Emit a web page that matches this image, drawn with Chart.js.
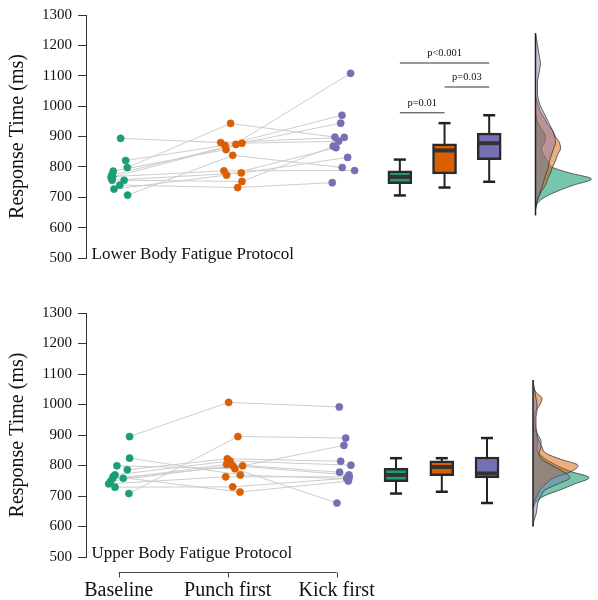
<!DOCTYPE html>
<html><head><meta charset="utf-8">
<script src="https://cdn.jsdelivr.net/npm/chart.js@4/dist/chart.umd.min.js"></script>
<style>
html,body{margin:0;padding:0;background:#fff;}
#wrap{position:relative;width:598px;height:600px;overflow:hidden;}
.panel{position:absolute;left:0;width:598px;}
#p1{top:0;height:280px;}
#p2{top:290px;height:310px;}
</style></head><body>
<div id="wrap">
  <div class="panel" id="p1"><canvas id="c1"></canvas></div>
  <div class="panel" id="p2"><canvas id="c2"></canvas></div>
</div>
<script>
// ---------------- DATA ----------------
const CONDITIONS = ['Baseline', 'Punch first', 'Kick first'];
const Y_TICK_MIN = 500, Y_TICK_MAX = 1300, Y_TICK_STEP = 100;
const PANEL_TITLES = ['Lower Body Fatigue Protocol', 'Upper Body Fatigue Protocol'];

// Lower body fatigue protocol (one entry per participant, ms)
const LOWER_BASELINE = [894, 798, 821, 786, 773, 765, 707, 768, 727, 740, 756, 756];
const LOWER_PUNCH    = [880, 943, 871, 857, 874, 878, 838, 787, 773, 732, 752, 780];
const LOWER_KICK     = [897, 898, 970, 1108, 944, 884, 798, 788, 863, 748, 868, 831];
// horizontal jitter of each dot (category units)
const LOWER_JIT_BASELINE = [0.018, 0.079, 0.064, -0.05, -0.064, -0.07, 0.082, -0.055, -0.043, 0.01, 0.05, -0.06];
const LOWER_JIT_PUNCH    = [-0.064, 0.027, -0.025, -0.015, 0.076, 0.131, 0.046, -0.034, -0.01, 0.092, 0.131, 0.125];
const LOWER_JIT_KICK     = [0.07, -0.016, 0.049, 0.128, 0.037, 0.018, 0.051, 0.165, -0.006, -0.04, -0.031, 0.101];

// Upper body fatigue protocol
const UPPER_BASELINE = [895, 708, 824, 758, 799, 786, 769, 758, 749, 740, 729, 764];
const UPPER_PUNCH    = [1007, 895, 769, 799, 789, 822, 815, 804, 800, 763, 730, 713];
const UPPER_KICK     = [992, 890, 756, 866, 677, 814, 801, 778, 769, 763, 758, 749];
const UPPER_JIT_BASELINE = [0.10, 0.094, 0.10, -0.055, -0.016, 0.079, -0.034, 0.042, -0.073, -0.092, -0.034, -0.05];
const UPPER_JIT_PUNCH    = [0.009, 0.094, 0.116, 0.137, 0.067, -0.003, 0.021, -0.01, 0.046, -0.018, 0.046, 0.113];
const UPPER_JIT_KICK     = [0.024, 0.083, 0.11, 0.067, 0.003, 0.037, 0.131, 0.027, 0.113, 0.116, 0.092, 0.107];

// Box plot summaries [Baseline, Punch first, Kick first]
const LOWER_BOX_MIN = [706, 732, 751];
const LOWER_BOX_Q1  = [745, 777, 824];
const LOWER_BOX_MED = [767, 854, 878];
const LOWER_BOX_Q3  = [787, 876, 911];
const LOWER_BOX_MAX = [824, 944, 970];
const UPPER_BOX_MIN = [708, 714, 677];
const UPPER_BOX_Q1  = [747, 767, 759];
const UPPER_BOX_MED = [769, 795, 774];
const UPPER_BOX_Q3  = [791, 815, 828];
const UPPER_BOX_MAX = [824, 824, 890];

// Significance brackets (lower body panel)
const SIG_LABELS = ['p=0.01', 'p=0.03', 'p<0.001'];
const SIG_FROM   = [0, 1, 0];
const SIG_TO     = [1, 2, 2];
const SIG_LEVEL  = [978, 1063, 1142];

// Density curves (relative density)
const RT_GRID = [600,620,640,660,680,700,720,740,760,780,800,820,840,860,880,900,920,940,960,980,1000,1020,1040,1060,1080,1100,1120,1140,1160,1180,1200,1220,1240];
const LOWER_DENS_BASELINE = [0,0,0,0,2,9,22,38,56,34,16,12,8,6,9,10,7,3,1,0,0,0,0,0,0,0,0,0,0,0,0,0,0];
const LOWER_DENS_PUNCH    = [0,0,0,0,1,3,6,10,12,15,17,20,22,25,24,20,17,12,9,5,3,1,0,0,0,0,0,0,0,0,0,0,0];
const LOWER_DENS_KICK     = [0,0,0,0,1,3,5,7,9,11,13,14,16,18,20,19,17,14,11,8,5,3,2,2,2,3,4,5,4,3,2,1,0];
const UPPER_DENS_BASELINE = [0,0,0,0,3,11,27,42,56,38,24,13,6,4,5,4,1,0,0,0,0,0,0,0,0,0,0,0,0,0,0,0,0];
const UPPER_DENS_PUNCH    = [0,0,0,0,1,4,7,13,21,38,45,28,13,9,6,4,3,2,2,3,7,9,3,0,0,0,0,0,0,0,0,0,0];
const UPPER_DENS_KICK     = [0,1,3,4,5,8,12,25,37,30,19,9,6,8,8,5,3,3,3,4,4,3,2,1,0,0,0,0,0,0,0,0,0];

// ---------------- STYLE / LAYOUT ----------------
const SERIF = "'Liberation Serif', 'Times New Roman', serif";
const COLORS = ['#1b9e77', '#d95f02', '#7570b3'];
const DENS_FILL = ['rgba(27,158,119,0.6)', 'rgba(217,95,2,0.5)', 'rgba(117,112,179,0.42)'];
const X_MIN = 0.7, X_MAX = 5.38;
const AREA_LEFT = 86, AREA_RIGHT = 596;

function yTicks() {
  const t = [];
  for (let v = Y_TICK_MIN; v <= Y_TICK_MAX; v += Y_TICK_STEP) t.push(v);
  return t;
}

const annotate = {
  id: 'annotate',
  afterDatasetsDraw(chart, args, opts) {
    const {ctx, chartArea, scales} = chart;
    const x = scales.x, y = scales.y;
    ctx.save();
    ctx.fillStyle = '#111';
    ctx.font = '17px ' + SERIF;
    ctx.textAlign = 'left';
    ctx.textBaseline = 'alphabetic';
    ctx.fillText(opts.label, chartArea.left + 5.5, y.getPixelForValue(Y_TICK_MIN) + 0.5);
    if (opts.sig) {
      ctx.font = '10.5px ' + SERIF;
      ctx.textAlign = 'center';
      ctx.textBaseline = 'bottom';
      opts.sig.forEach(s => {
        const px = (x.getPixelForValue(s.x0) + x.getPixelForValue(s.x1)) / 2;
        ctx.fillText(s.text, px, y.getPixelForValue(s.level) - 4);
      });
    }
    if (opts.bracket) {
      const by = Math.round(chartArea.bottom + 15) + 0.5;
      ctx.strokeStyle = '#444';
      ctx.lineWidth = 1;
      ctx.beginPath();
      const p1 = x.getPixelForValue(1), p3 = x.getPixelForValue(3);
      ctx.moveTo(p1, by); ctx.lineTo(p3, by);
      [1, 2, 3].forEach(v => {
        const p = Math.round(x.getPixelForValue(v)) + 0.5;
        ctx.moveTo(p, by); ctx.lineTo(p, by + 5);
      });
      ctx.stroke();
    }
    ctx.restore();
  }
};

function trimmedDensity(arr) {
  let lo = -1, hi = -1;
  arr.forEach((v, k) => { if (v > 0) { if (lo < 0) lo = k; hi = k; } });
  const a = Math.max(lo - 1, 0), b = Math.min(hi + 1, arr.length - 1);
  const pts = [];
  for (let k = a; k <= b; k++) pts.push({x: arr[k], y: RT_GRID[k]});
  return pts;
}

function buildPanel(canvasId, d) {
  const datasets = [];
  const series = [[d.baseline, d.jb], [d.punch, d.jp], [d.kick, d.jk]];
  // participant connecting lines
  for (let i = 0; i < d.baseline.length; i++) {
    datasets.push({
      type: 'line', xAxisID: 'x', yAxisID: 'y',
      data: series.map(([vals, jit], c) => ({x: c + 1 + jit[i], y: vals[i]})),
      borderColor: '#cdcdcd', borderWidth: 1, pointRadius: 0, fill: false, order: 30
    });
  }
  // dots
  series.forEach(([vals, jit], c) => datasets.push({
    type: 'scatter', xAxisID: 'x', yAxisID: 'y',
    data: vals.map((v, i) => ({x: c + 1 + jit[i], y: v})),
    backgroundColor: COLORS[c], borderColor: COLORS[c], borderWidth: 0.5,
    pointRadius: 3.6, order: 20
  }));
  // densities (half violins): green drawn first, purple on top
  [0, 1, 2].forEach(c => datasets.push({
    type: 'line', indexAxis: 'y', xAxisID: 'xd', yAxisID: 'y',
    data: trimmedDensity(d.dens[c]),
    fill: 'origin', backgroundColor: DENS_FILL[c], borderColor: '#3a3a3a', borderWidth: 0.8,
    pointRadius: 0, cubicInterpolationMode: 'monotone', order: 14 - c
  }));
  // density baseline
  let lo = RT_GRID.length, hi = 0;
  RT_GRID.forEach((rt, k) => {
    if (d.dens.some(arr => arr[k] > 0)) { lo = Math.min(lo, k); hi = Math.max(hi, k); }
  });
  datasets.push({
    type: 'line', indexAxis: 'y', xAxisID: 'xd', yAxisID: 'y',
    data: [{x: 0, y: RT_GRID[Math.max(lo - 2, 0)]}, {x: 0, y: RT_GRID[Math.min(hi + 1, RT_GRID.length - 1)]}],
    borderColor: '#222', borderWidth: 1.5, pointRadius: 0, fill: false, order: 10
  });
  // whiskers
  d.boxX.forEach((bx, c) => datasets.push({
    type: 'line', xAxisID: 'x', yAxisID: 'y',
    data: [{x: bx, y: d.min[c]}, {x: bx, y: d.max[c]}],
    borderColor: '#222', borderWidth: 2, pointRadius: 0, fill: false, order: 6
  }));
  // boxes
  datasets.push({
    type: 'bar', xAxisID: 'x', yAxisID: 'y', grouped: false,
    data: d.boxX.map((bx, c) => ({x: bx, y: [d.q1[c], d.q3[c]]})),
    backgroundColor: COLORS, borderColor: '#2a2a2a', borderWidth: 2.5,
    borderSkipped: false, barThickness: 24, order: 5
  });
  // caps
  datasets.push({
    type: 'scatter', xAxisID: 'x', yAxisID: 'y',
    data: d.boxX.flatMap((bx, c) => [{x: bx, y: d.min[c]}, {x: bx, y: d.max[c]}]),
    pointStyle: 'line', pointRadius: 6, borderColor: '#222', borderWidth: 2.5, order: 4
  });
  // medians
  datasets.push({
    type: 'scatter', xAxisID: 'x', yAxisID: 'y',
    data: d.boxX.map((bx, c) => ({x: bx, y: d.med[c]})),
    pointStyle: 'line', pointRadius: 10.5, borderColor: '#333', borderWidth: 4, order: 3
  });
  // significance lines
  const sig = [];
  if (d.sig) {
    SIG_LABELS.forEach((t, k) => {
      const x0 = d.boxX[SIG_FROM[k]], x1 = d.boxX[SIG_TO[k]];
      datasets.push({
        type: 'line', xAxisID: 'x', yAxisID: 'y',
        data: [{x: x0, y: SIG_LEVEL[k]}, {x: x1, y: SIG_LEVEL[k]}],
        borderColor: '#333', borderWidth: 1, pointRadius: 0, fill: false, order: 2
      });
      sig.push({text: t, x0, x1, level: SIG_LEVEL[k]});
    });
  }

  return new Chart(document.getElementById(canvasId), {
    type: 'scatter',
    data: {datasets},
    plugins: [annotate],
    options: {
      responsive: true, maintainAspectRatio: false, animation: false, events: [],
      layout: {autoPadding: false, padding: {left: 0, right: 598 - AREA_RIGHT, top: d.padTop, bottom: d.padBottom}},
      plugins: {
        legend: {display: false}, tooltip: {enabled: false},
        annotate: {label: d.label, sig: d.sig ? sig : null, bracket: d.showX}
      },
      scales: {
        x: {
          type: 'linear', min: X_MIN, max: X_MAX, offset: false, display: d.showX,
          grid: {display: false, drawTicks: false, offset: false},
          border: {display: false},
          afterBuildTicks: s => { s.ticks = [1, 2, 3].map(v => ({value: v})); },
          afterFit: s => { if (d.showX) s.height = d.xHeight; },
          ticks: {
            autoSkip: false, maxRotation: 0, padding: d.xPad, color: '#111',
            font: {family: SERIF, size: 20},
            callback: v => CONDITIONS[v - 1]
          }
        },
        xd: {
          type: 'linear', display: false,
          min: -(d.densBase - AREA_LEFT), max: AREA_RIGHT - d.densBase
        },
        y: {
          type: 'linear', min: Y_TICK_MIN, max: Y_TICK_MAX,
          afterBuildTicks: s => { s.ticks = yTicks().map(v => ({value: v})); },
          afterFit: s => { s.width = AREA_LEFT; },
          grid: {drawOnChartArea: false, drawTicks: true, tickLength: 8, color: '#333', lineWidth: 1},
          border: {display: true, color: '#333', width: 1},
          ticks: {color: '#111', padding: 6, font: {family: SERIF, size: 15}, callback: v => String(v)},
          title: {display: true, text: 'Response Time (ms)', color: '#111',
                  font: {family: SERIF, size: 20}, padding: {top: 6, bottom: 0}}
        }
      }
    }
  });
}

buildPanel('c1', {
  baseline: LOWER_BASELINE, punch: LOWER_PUNCH, kick: LOWER_KICK,
  jb: LOWER_JIT_BASELINE, jp: LOWER_JIT_PUNCH, jk: LOWER_JIT_KICK,
  min: LOWER_BOX_MIN, q1: LOWER_BOX_Q1, med: LOWER_BOX_MED, q3: LOWER_BOX_Q3, max: LOWER_BOX_MAX,
  dens: [LOWER_DENS_BASELINE, LOWER_DENS_PUNCH, LOWER_DENS_KICK],
  boxX: [3.58, 3.99, 4.40], densBase: 535.5,
  sig: true, label: PANEL_TITLES[0], showX: false,
  padTop: 14, padBottom: 22, xHeight: 0, xPad: 0
});
buildPanel('c2', {
  baseline: UPPER_BASELINE, punch: UPPER_PUNCH, kick: UPPER_KICK,
  jb: UPPER_JIT_BASELINE, jp: UPPER_JIT_PUNCH, jk: UPPER_JIT_KICK,
  min: UPPER_BOX_MIN, q1: UPPER_BOX_Q1, med: UPPER_BOX_MED, q3: UPPER_BOX_Q3, max: UPPER_BOX_MAX,
  dens: [UPPER_DENS_BASELINE, UPPER_DENS_PUNCH, UPPER_DENS_KICK],
  boxX: [3.545, 3.965, 4.38], densBase: 533,
  sig: false, label: PANEL_TITLES[1], showX: true,
  padTop: 23, padBottom: 0, xHeight: 43, xPad: 22
});
</script>
</body></html>
